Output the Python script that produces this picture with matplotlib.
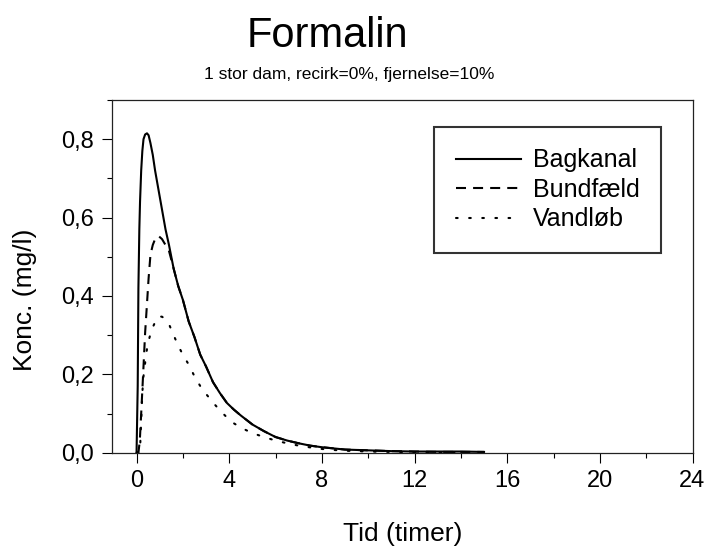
import matplotlib
matplotlib.use("Agg")
import matplotlib.pyplot as plt
from matplotlib.ticker import MultipleLocator, FuncFormatter

plt.rcParams['font.family'] = ['Liberation Sans', 'DejaVu Sans']

# ---- data ----
tid = [0, 0.05, 0.08, 0.12, 0.15, 0.2, 0.25, 0.3, 0.37, 0.45, 0.52, 0.6, 0.7, 0.8,
       0.95, 1.1, 1.25, 1.4, 1.6, 1.8, 2.0, 2.25, 2.5, 2.75, 3.0, 3.3, 3.6, 3.9,
       4.2, 4.5, 5.0, 5.5, 6.0, 6.5, 7.0, 7.5, 8.0, 8.5, 9.0, 10.0, 11.0, 12.0,
       13.0, 14.0, 15.0]
bagkanal = [0.0, 0.17, 0.42, 0.57, 0.64, 0.72, 0.77, 0.80, 0.812, 0.815, 0.81, 0.79,
            0.76, 0.72, 0.67, 0.62, 0.57, 0.53, 0.47, 0.425, 0.39, 0.335, 0.295,
            0.25, 0.22, 0.18, 0.152, 0.127, 0.11, 0.095, 0.072, 0.055, 0.040,
            0.031, 0.024, 0.018, 0.014, 0.011, 0.008, 0.006, 0.004, 0.003, 0.003,
            0.003, 0.002]
bundfaeld = [0.0, 0.0, 0.0, 0.02, 0.042, 0.10, 0.16, 0.22, 0.306, 0.38, 0.445, 0.505,
             0.53, 0.545, 0.553, 0.545, 0.53, 0.515, 0.47, 0.425, 0.39, 0.335, 0.295,
             0.25, 0.22, 0.18, 0.152, 0.127, 0.11, 0.095, 0.072, 0.055, 0.040,
             0.031, 0.024, 0.018, 0.014, 0.011, 0.008, 0.006, 0.004, 0.003, 0.002,
             0.002, 0.002]
vandloeb = [0.0, 0.0, 0.0, 0.0, 0.008, 0.08, 0.153, 0.195, 0.229, 0.265, 0.285, 0.303,
            0.32, 0.333, 0.348, 0.347, 0.34, 0.328, 0.30, 0.273, 0.25, 0.225, 0.195,
            0.17, 0.15, 0.128, 0.108, 0.09, 0.075, 0.064, 0.05, 0.04, 0.031, 0.024,
            0.018, 0.0135, 0.0095, 0.007, 0.005, 0.003, 0.002, 0.001, 0.001, 0.001,
            0.001]
labels = ["Bagkanal", "Bundfæld", "Vandløb"]
x_ticks = [0, 4, 8, 12, 16, 20, 24]
y_ticks = [0.0, 0.2, 0.4, 0.6, 0.8]

W, H = 709, 549
fig = plt.figure(figsize=(W / 100, H / 100), dpi=100)
L, R, T, B = 112, 692.5, 100, 452.7
ax = fig.add_axes([L / W, 1 - B / H, (R - L) / W, (B - T) / H])

lw = 1.5
ax.plot(tid, bagkanal, color='black', lw=lw, linestyle='-', label=labels[0])
ax.plot(tid, bundfaeld, color='black', lw=lw, linestyle=(0, (4.8, 3.4)), label=labels[1])
ax.plot(tid, vandloeb, color='black', lw=lw, linestyle=(0, (0.8, 5.5)),
        dash_capstyle='round', label=labels[2])

ax.set_xlim(-1.06, 24)
ax.set_ylim(0, 0.9)
ax.set_xticks(x_ticks)
ax.set_yticks(y_ticks)
ax.xaxis.set_minor_locator(MultipleLocator(2))
ax.yaxis.set_minor_locator(MultipleLocator(0.1))
ax.yaxis.set_major_formatter(FuncFormatter(lambda v, p: f"{v:.1f}".replace('.', ',')))
ax.tick_params(which='major', direction='out', length=7.2, width=0.8, labelsize=17,
               top=False, right=False)
ax.tick_params(axis='y', which='major', pad=6)
ax.tick_params(axis='x', which='major', pad=5.5)
ax.tick_params(which='minor', direction='out', length=3.6, width=0.8, top=False, right=False)
for s in ax.spines.values():
    s.set_linewidth(0.9)
    s.set_color('#222222')

ax.set_xlabel("Tid (timer)", fontsize=19)
ax.xaxis.set_label_coords(0.5, -0.197)
fig.text(25 / W, 1 - 300 / H, "Konc. (mg/l)", rotation=90, ha='center', va='center',
         fontsize=19)

fig.text(327.5 / W, 1 - 47 / H, "Formalin", ha='center', va='baseline', fontsize=30)
fig.text(349 / W, 1 - 79.3 / H, "1 stor dam, recirk=0%, fjernelse=10%", ha='center',
         va='baseline', fontsize=12.5)

leg = ax.legend(loc='upper right', bbox_to_anchor=((661 - L) / (R - L), (B - 127) / (B - T)),
                borderaxespad=0, fontsize=18, handlelength=2.6, handletextpad=0.5,
                labelspacing=0.22, borderpad=0.85, fancybox=False, frameon=True)
leg.get_frame().set_edgecolor('black')
leg.get_frame().set_linewidth(1.5)

fig.savefig("out.png", dpi=100)
